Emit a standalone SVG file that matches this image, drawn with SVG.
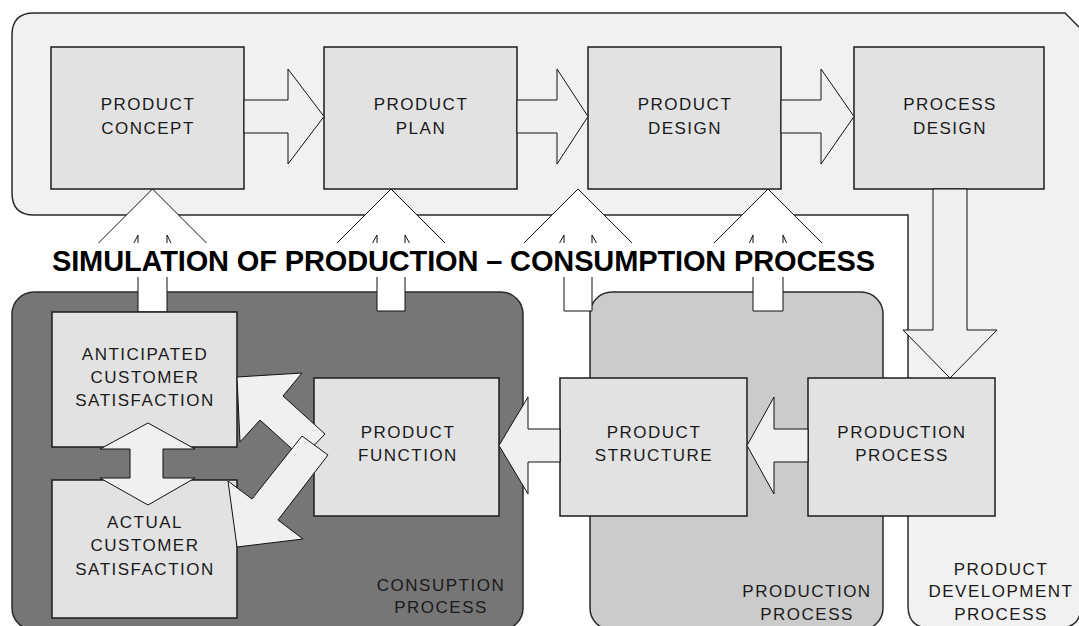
<svg xmlns="http://www.w3.org/2000/svg" width="1079" height="626" viewBox="0 0 1079 626">
  <style>
    .panel { stroke: #2a2a2a; stroke-width: 1.5; }
    .box { fill: #e2e2e2; stroke: #1c1c1c; stroke-width: 1.5; }
    .arrow { fill: #f0f0f0; stroke: #111; stroke-width: 1; stroke-linejoin: miter; }
    .up { fill: #ffffff; stroke: #111; stroke-width: 1; stroke-linejoin: miter; }
    .lbl { font-family: "Liberation Sans", Arial, sans-serif; font-size: 17px; letter-spacing: 1.5px; fill: #1a1a1a; text-anchor: middle; }
    .title { font-family: "Liberation Sans", Arial, sans-serif; font-size: 29px; font-weight: bold; fill: #000; }
  </style>
  <rect width="1079" height="626" fill="#ffffff"/>

  <!-- Process areas -->
  <g id="product-development-process">
    <path class="panel" fill="#f1f1f1" d="M12,35 Q12,13 34,13 L1065,13 L1081,29 L1081,606 Q1081,628 1059,628 L930,628 Q908,628 908,606 L908,215 L34,215 Q12,215 12,193 Z"/>
    <text class="lbl" x="1001" y="575">PRODUCT</text>
    <text class="lbl" x="1001" y="597">DEVELOPMENT</text>
    <text class="lbl" x="1001" y="620">PROCESS</text>
  </g>
  <g id="consumption-process">
    <rect class="panel" fill="#767676" x="12" y="292" width="511" height="338" rx="22" ry="22"/>
    <text class="lbl" x="441" y="591">CONSUPTION</text>
    <text class="lbl" x="441" y="613">PROCESS</text>
  </g>
  <g id="production-process">
    <rect class="panel" fill="#cbcbcb" x="590" y="292" width="293" height="338" rx="22" ry="22"/>
    <text class="lbl" x="807" y="597">PRODUCTION</text>
    <text class="lbl" x="807" y="620">PROCESS</text>
  </g>

  <!-- Connectors -->
  <g id="connectors">
    <!-- upward feedback arrows from the simulation band -->
    <polygon class="up" points="152.5,189 209.5,246 171.5,244 167,235 167,312 138,312 138,235 133.5,244 95.5,246"/>
    <polygon class="up" points="391,189 448,246 410,244 405,235 405,311 377,311 377,235 372,244 334,246"/>
    <polygon class="up" points="578,189 635,246 597,244 592,235 592,311 564,311 564,235 559,244 521,246"/>
    <polygon class="up" points="768,189 825,246 787,244 783,235 783,311 753,311 753,235 749,244 711,246"/>
  </g>

  <!-- simulation band -->
  <g id="simulation-label">
    <rect x="46" y="243" width="840" height="34" fill="#ffffff"/>
    <text class="title" x="52" y="271" textLength="823" lengthAdjust="spacing">SIMULATION OF PRODUCTION – CONSUMPTION PROCESS</text>
  </g>

  <!-- Nodes -->
  <g id="product-concept">
    <rect class="box" x="51" y="47" width="193" height="142"/>
    <text class="lbl" x="148" y="110">PRODUCT</text>
    <text class="lbl" x="148" y="134">CONCEPT</text>
  </g>
  <g id="product-plan">
    <rect class="box" x="324" y="47" width="193" height="142"/>
    <text class="lbl" x="421" y="110">PRODUCT</text>
    <text class="lbl" x="421" y="134">PLAN</text>
  </g>
  <g id="product-design">
    <rect class="box" x="588" y="47" width="193" height="142"/>
    <text class="lbl" x="685" y="110">PRODUCT</text>
    <text class="lbl" x="685" y="134">DESIGN</text>
  </g>
  <g id="process-design">
    <rect class="box" x="854" y="47" width="190" height="142"/>
    <text class="lbl" x="950" y="110">PROCESS</text>
    <text class="lbl" x="950" y="134">DESIGN</text>
  </g>
  <g id="anticipated-customer-satisfaction">
    <rect class="box" x="52" y="312" width="185" height="135"/>
    <text class="lbl" x="145" y="360">ANTICIPATED</text>
    <text class="lbl" x="145" y="383">CUSTOMER</text>
    <text class="lbl" x="145" y="406">SATISFACTION</text>
  </g>
  <g id="actual-customer-satisfaction">
    <rect class="box" x="52" y="480" width="185" height="138"/>
    <text class="lbl" x="145" y="528">ACTUAL</text>
    <text class="lbl" x="145" y="551">CUSTOMER</text>
    <text class="lbl" x="145" y="575">SATISFACTION</text>
  </g>
  <g id="product-function">
    <rect class="box" x="314" y="378" width="185" height="138"/>
    <text class="lbl" x="408" y="438">PRODUCT</text>
    <text class="lbl" x="408" y="461">FUNCTION</text>
  </g>
  <g id="product-structure">
    <rect class="box" x="560" y="378" width="187" height="138"/>
    <text class="lbl" x="654" y="438">PRODUCT</text>
    <text class="lbl" x="654" y="461">STRUCTURE</text>
  </g>
  <g id="production-process-node">
    <rect class="box" x="808" y="378" width="187" height="138"/>
    <text class="lbl" x="902" y="438">PRODUCTION</text>
    <text class="lbl" x="902" y="461">PROCESS</text>
  </g>

  <!-- Flow arrows between nodes -->
  <g id="flow-arrows">
    <polygon class="arrow" points="244,100 288,100 288,69 324,116.5 288,164 288,133 244,133"/>
    <polygon class="arrow" points="517,100 557,100 557,69 588,116.5 557,164 557,133 517,133"/>
    <polygon class="arrow" points="781,100 821,100 821,69 854,116.5 821,164 821,133 781,133"/>
    <polygon class="arrow" points="933,189 967,189 967,330 997,330 950,378 903,330 933,330"/>
    <polygon class="arrow" points="808,429 774,429 774,397 747,445.5 774,494 774,462 808,462"/>
    <polygon class="arrow" points="560,429 528,429 528,397 499,445.5 528,494 528,462 560,462"/>
    <polygon class="arrow" points="148,423 195,449 163,449 163,478 195,478 148,505 100,478 130,478 130,449 100,449"/>
    <polygon class="arrow" points="237,377 302,373 283,396 325,434 302,458 260,420 240,442"/>
    <polygon class="arrow" points="237,547 228,481 252,499 302,436 328,455 278,520 303,539"/>
  </g>
</svg>
